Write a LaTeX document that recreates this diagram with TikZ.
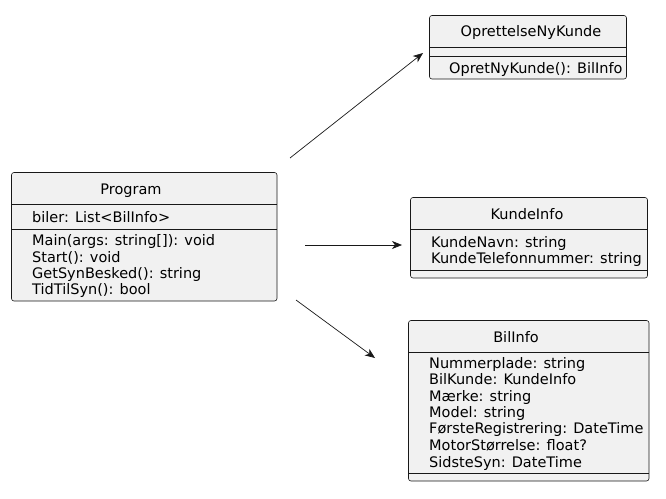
\documentclass[tikz,border=0pt]{standalone}
\usepackage{fontspec}
\setmainfont{DejaVu Sans}
\usetikzlibrary{arrows.meta}

\definecolor{boxfill}{HTML}{F1F1F1}
\definecolor{boxline}{HTML}{181818}

\tikzset{
	umlbox/.style={draw=boxline, fill=boxfill, line width=0.6pt, rounded corners=2.5pt},
	sepline/.style={draw=boxline, line width=0.6pt},
	title/.style={inner sep=0pt, text height=14.5pt, text depth=3pt, anchor=center},
	member/.style={inner sep=0pt, text height=14.5pt, text depth=3pt, anchor=west},
	assoc/.style={draw=boxline, line width=0.7pt, -{Stealth[length=10pt,width=8pt,inset=3pt]}}
}

\begin{document}
\begin{tikzpicture}[x=1pt, y=-1pt, font=\fontsize{14.5}{16}\selectfont]
	\useasboundingbox (0,0) rectangle (666,498);

	% Program
	\draw[umlbox] (11.5,172.5) rectangle (277,301);
	\draw[sepline] (11.5,204) -- (277,204);
	\draw[sepline] (11.5,229) -- (277,229);
	\node[title] (prog) at (131,189) {Program};
	\node[member] (biler) at (32,217) {biler: List<BilInfo>};
	\node[member] (main) at (32,240) {Main(args: string[]): void};
	\node[member] (start) at (32,257) {Start(): void};
	\node[member] (besked) at (32,273) {GetSynBesked(): string};
	\node[member] (tid) at (32,289) {TidTilSyn(): bool};

	% OprettelseNyKunde
	\draw[umlbox] (429.5,15.5) rectangle (626.5,79);
	\draw[sepline] (429.5,47) -- (626.5,47);
	\draw[sepline] (429.5,56) -- (626.5,56);
	\node[title] (opret) at (531,31) {OprettelseNyKunde};
	\node[member] (opretny) at (449,68) {OpretNyKunde(): BilInfo};

	% KundeInfo
	\draw[umlbox] (410.5,197.5) rectangle (647.5,278);
	\draw[sepline] (410.5,229.5) -- (647.5,229.5);
	\draw[sepline] (410.5,270) -- (647.5,270);
	\node[title] (kunde) at (527,214) {KundeInfo};
	\node[member] (navn) at (431,242) {KundeNavn: string};
	\node[member] (tlf) at (431,258) {KundeTelefonnummer: string};

	% BilInfo
	\draw[umlbox] (408.5,320.5) rectangle (649,481);
	\draw[sepline] (408.5,352) -- (649,352);
	\draw[sepline] (408.5,473) -- (649,473);
	\node[title] (bil) at (516,337) {BilInfo};
	\node[member] (plade) at (429,363) {Nummerplade: string};
	\node[member] (bilkunde) at (429,379) {BilKunde: KundeInfo};
	\node[member] (maerke) at (429,396) {Mærke: string};
	\node[member] (model) at (429,412) {Model: string};
	\node[member] (foerste) at (429,428) {FørsteRegistrering: DateTime};
	\node[member] (motor) at (429,445) {MotorStørrelse: float?};
	\node[member] (sidste) at (429,462) {SidsteSyn: DateTime};

	% associations
	\coordinate (p1) at (290,158);
	\coordinate (o1) at (423,53);
	\coordinate (p2) at (305,245);
	\coordinate (k1) at (402,245);
	\coordinate (p3) at (296,300);
	\coordinate (b1) at (375,358);
	\draw[assoc] (p1) -- (o1);
	\draw[assoc] (p2) -- (k1);
	\draw[assoc] (p3) -- (b1);
\end{tikzpicture}
\end{document}
